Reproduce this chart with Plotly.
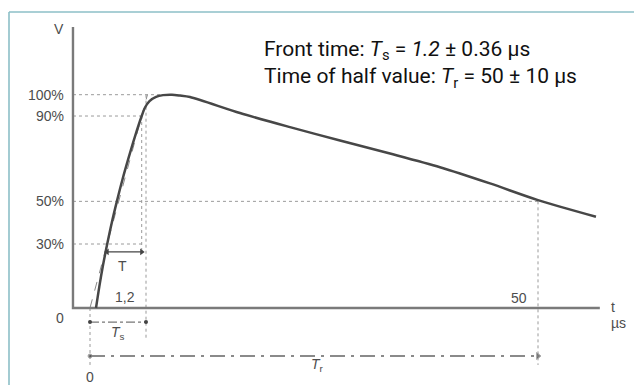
import plotly.graph_objects as go

# ---- data (schematic units: x = time position, y = % of peak voltage) ----
curve_t = [0.67, 1.04, 1.45, 1.92, 2.43, 3.00, 3.61, 4.28, 4.99, 5.77,
           6.14, 6.64, 7.37, 8.15, 9.15, 10.04, 11.16, 16.74, 22.32, 27.90,
           33.48, 39.06, 44.64, 50.0, 56.47]
curve_v = [0, 10, 20, 30, 40, 50, 60, 70, 80, 90,
           94, 97, 99, 99.8, 100, 99.6, 98.9, 91.4, 84.8, 78.5,
           72.4, 66.0, 58.4, 50.6, 42.8]

levels = [100, 90, 50, 30]
level_labels = ["100%", "90%", "50%", "30%"]
level_ends = [7.8, 5.77, 50.0, 5.77]

t30, t90 = 1.92, 5.77          # 30 % and 90 % crossings of the front
ts_mark, tr_mark = 6.25, 50.0  # positions marked "1,2" and "50"
ts_label, tr_label = "1,2", "50"
front_text = "Front time: <i>T</i><sub>s</sub> = <i>1.2</i> ± 0.36 µs"
tail_text = "Time of half value: <i>T</i><sub>r</sub> = 50 ± 10 µs"

# ---- geometry helpers ----
X0, X1 = -10.045, 60.714
Y0, Y1 = -36.1, 144.4
axis_x = -1.9
axis_top = 131.7
axis_right = 56.9
t_arrow_y = 26.3
ts_arrow_y = -6.6
tr_arrow_y = -22.5

GRAY = "#474747"
DOT = "#9a9a9a"
LBL = dict(family="Liberation Sans, Arial, sans-serif", size=14, color="#4d4d4d")

fig = go.Figure()

# dotted level lines
for lv, xe in zip(levels, level_ends):
    fig.add_trace(go.Scatter(x=[axis_x, xe], y=[lv, lv], mode="lines",
                             line=dict(color=DOT, width=1, dash="dot"), hoverinfo="skip"))
# dotted verticals
verts = [(t90, 90, t_arrow_y), (ts_mark, 100, -14.1), (tr_mark, 50, -26.7), (0, 0, -26.7)]
for vx, ya, yb in verts:
    fig.add_trace(go.Scatter(x=[vx, vx], y=[ya, yb], mode="lines",
                             line=dict(color=DOT, width=1, dash="dot"), hoverinfo="skip"))

# virtual front line through 30 % and 90 % points
slope = (90 - 30) / (t90 - t30)
x_origin = t30 - 30 / slope
x_top = t30 + 70 / slope
fig.add_trace(go.Scatter(x=[x_origin, x_top], y=[0, 100], mode="lines",
                         line=dict(color="#8a8a8a", width=1, dash="dash"), hoverinfo="skip"))

# axes
fig.add_trace(go.Scatter(x=[axis_x, axis_x, axis_right], y=[axis_top, 0, 0], mode="lines",
                         line=dict(color="#7a7a7a", width=2.4), hoverinfo="skip"))

# the impulse wave
fig.add_trace(go.Scatter(x=curve_t, y=curve_v, mode="lines",
                         line=dict(color=GRAY, width=2.5, shape="spline", smoothing=0.8),
                         hoverinfo="skip"))

# T dimension
fig.add_trace(go.Scatter(x=[t30, t90], y=[t_arrow_y, t_arrow_y], mode="lines+markers",
                         line=dict(color="#444", width=1.2),
                         marker=dict(symbol=["triangle-left", "triangle-right"], size=6, color="#444"),
                         hoverinfo="skip"))
# Ts dimension
fig.add_trace(go.Scatter(x=[0, ts_mark], y=[ts_arrow_y, ts_arrow_y], mode="lines+markers",
                         line=dict(color="#777", width=1.2, dash="dashdot"),
                         marker=dict(symbol="circle", size=4, color="#444"), hoverinfo="skip"))
# Tr dimension
fig.add_trace(go.Scatter(x=[0, tr_mark], y=[tr_arrow_y, tr_arrow_y], mode="lines+markers",
                         line=dict(color="#8a8a8a", width=1.8, dash="longdashdot"),
                         marker=dict(symbol=["circle", "triangle-right"], size=[4, 6], color="#444"),
                         hoverinfo="skip"))

ann = []
def lab(x, y, text, xanchor="center", font=LBL, yanchor="middle"):
    ann.append(dict(x=x, y=y, xref="x", yref="y", text=text, showarrow=False,
                    xanchor=xanchor, yanchor=yanchor, font=font))

for lv, lt in zip(levels, level_labels):
    lab(-2.7, lv, lt, xanchor="right")
lab(-2.7, -4.7, "0", xanchor="right")
lab(-2.7, 130.8, "V", xanchor="right")
lab(3.68, 19.7, "T")
lab(3.9, 5.2, ts_label)
lab(47.9, 4.7, tr_label)
lab(3.1, -11.7, "<i>T</i><sub>s</sub>")
lab(25.4, -26.5, "<i>T</i><sub>r</sub>")
lab(0, -32.3, "0")
lab(57.9, 0.6, "t", xanchor="left")
lab(57.9, -7.0, "µs", xanchor="left")

TXT = dict(family="Roboto, Arial, sans-serif", size=21, color="#111111")
ann.append(dict(x=262 / 634, y=1 - 65 / 385, xref="paper", yref="paper",
                text=front_text + "<br>" + tail_text, align="left",
                showarrow=False, xanchor="left", yanchor="middle", font=TXT))

shapes = [
    dict(type="line", xref="paper", yref="paper", x0=9 / 634, x1=1, y0=1 - 12 / 385, y1=1 - 12 / 385,
         line=dict(color="#8cbfc7", width=1.6)),
    dict(type="line", xref="paper", yref="paper", x0=9 / 634, x1=9 / 634, y0=1 - 12 / 385, y1=0,
         line=dict(color="#8cbfc7", width=1.6)),
]

fig.update_layout(
    width=634, height=385, margin=dict(l=0, r=0, t=0, b=0),
    paper_bgcolor="white", plot_bgcolor="white", showlegend=False,
    xaxis=dict(range=[X0, X1], visible=False, fixedrange=True),
    yaxis=dict(range=[Y0, Y1], visible=False, fixedrange=True),
    annotations=ann, shapes=shapes,
)
fig.write_html("out.html")
